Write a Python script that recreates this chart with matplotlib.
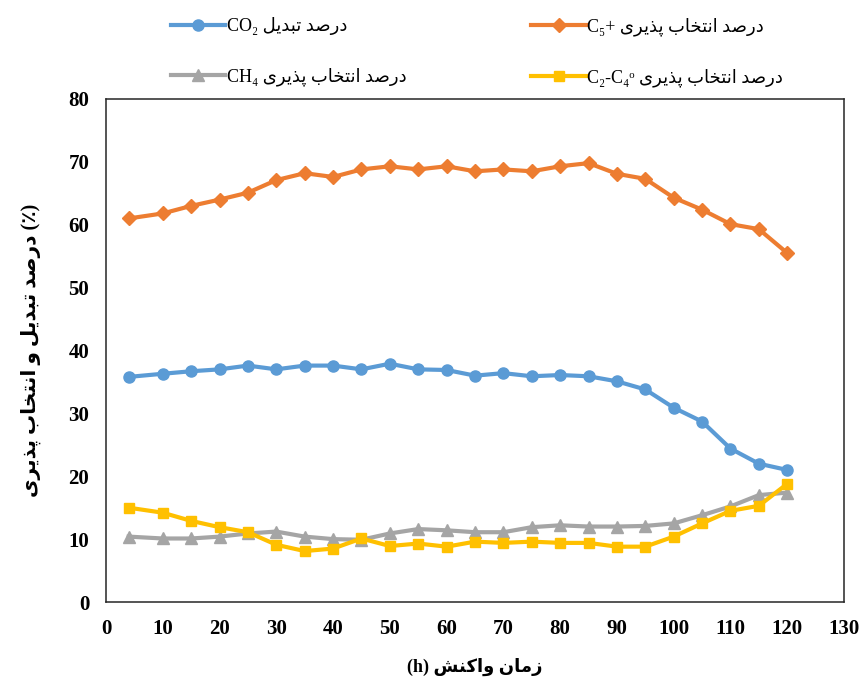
"""Conversion of CO2 and product selectivities vs reaction time (Persian labels)."""

import matplotlib
matplotlib.use("Agg")
import matplotlib.pyplot as plt

# ---------------------------------------------------------------------------- #
# data
# ---------------------------------------------------------------------------- #
time_h = [4, 10, 15, 20, 25, 30, 35, 40, 45, 50, 55, 60, 65, 70, 75, 80,
          85, 90, 95, 100, 105, 110, 115, 120]
co2_conv = [35.8, 36.3, 36.7, 37.0, 37.6, 37.0, 37.6, 37.6, 37.0, 37.9, 37.0, 36.9,
            36.0, 36.4, 35.9, 36.1, 35.9, 35.1, 33.8, 30.9, 28.7, 24.4, 22.0, 21.0]
c5_sel = [61.0, 61.8, 63.0, 64.0, 65.1, 67.1, 68.2, 67.6, 68.8, 69.3, 68.8, 69.3,
          68.5, 68.8, 68.5, 69.3, 69.8, 68.1, 67.3, 64.3, 62.4, 60.1, 59.3, 55.5]
ch4_sel = [10.4, 10.1, 10.1, 10.4, 10.9, 11.2, 10.4, 10.0, 9.9, 10.9, 11.6, 11.4,
           11.1, 11.1, 11.9, 12.2, 12.0, 12.0, 12.1, 12.5, 13.8, 15.2, 17.0, 17.4]
c2c4_sel = [15.0, 14.2, 12.9, 11.9, 11.1, 9.1, 8.1, 8.5, 10.1, 8.9, 9.3, 8.8,
            9.6, 9.4, 9.6, 9.4, 9.4, 8.8, 8.8, 10.4, 12.5, 14.5, 15.3, 18.8]

x_ticks = list(range(0, 131, 10))
y_ticks = list(range(0, 81, 10))

# ---------------------------------------------------------------------------- #
# minimal Persian shaping: matplotlib has no bidi / contextual forms, so map
# letters to presentation forms (isolated, final, initial, medial) and reverse.
# ---------------------------------------------------------------------------- #
FORMS = {
    "ا": ("\uFE8D", "\uFE8E", None, None),
    "ب": ("\uFE8F", "\uFE90", "\uFE91", "\uFE92"),
    "پ": ("\uFB56", "\uFB57", "\uFB58", "\uFB59"),
    "ت": ("\uFE95", "\uFE96", "\uFE97", "\uFE98"),
    "خ": ("\uFEA5", "\uFEA6", "\uFEA7", "\uFEA8"),
    "د": ("\uFEA9", "\uFEAA", None, None),
    "ذ": ("\uFEAB", "\uFEAC", None, None),
    "ر": ("\uFEAD", "\uFEAE", None, None),
    "ز": ("\uFEAF", "\uFEB0", None, None),
    "ش": ("\uFEB5", "\uFEB6", "\uFEB7", "\uFEB8"),
    "ص": ("\uFEB9", "\uFEBA", "\uFEBB", "\uFEBC"),
    "ک": ("\uFB8E", "\uFB8F", "\uFB90", "\uFB91"),
    "ل": ("\uFEDD", "\uFEDE", "\uFEDF", "\uFEE0"),
    "م": ("\uFEE1", "\uFEE2", "\uFEE3", "\uFEE4"),
    "ن": ("\uFEE5", "\uFEE6", "\uFEE7", "\uFEE8"),
    "و": ("\uFEED", "\uFEEE", None, None),
    "ی": ("\uFBFC", "\uFBFD", "\uFBFE", "\uFBFF"),
}


def fa(text: str) -> str:
    out = []
    for i, ch in enumerate(text):
        if ch not in FORMS:
            out.append(ch)
            continue
        prev = text[i - 1] if i > 0 else ""
        nxt = text[i + 1] if i + 1 < len(text) else ""
        join_prev = prev in FORMS and FORMS[prev][2] is not None
        join_next = FORMS[ch][2] is not None and nxt in FORMS
        iso, fin, ini, med = FORMS[ch]
        if join_prev and join_next:
            out.append(med)
        elif join_prev:
            out.append(fin)
        elif join_next:
            out.append(ini)
        else:
            out.append(iso)
    return "".join(out)[::-1]


labels = {
    "co2": "CO₂ " + fa("درصد تبدیل"),
    "c5": "C₅+ " + fa("درصد انتخاب پذیری"),
    "ch4": "CH₄ " + fa("درصد انتخاب پذیری"),
    "c2c4": "C₂-C₄ᵒ " + fa("درصد انتخاب پذیری"),
}
y_label = fa("درصد تبدیل و انتخاب پذیری") + " (٪)"
x_label = "(h) " + fa("زمان واکنش")

FAMILY = ["Liberation Serif", "DejaVu Sans"]

# ---------------------------------------------------------------------------- #
# plot
# ---------------------------------------------------------------------------- #
fig = plt.figure(figsize=(8.62, 6.82), dpi=100)
ax = fig.add_axes([106 / 862, 1 - 602 / 682, 738 / 862, 503 / 682])

series = [
    ("co2", co2_conv, "#5B9BD5", "o", 8.0),
    ("c5", c5_sel, "#ED7D31", "D", 7.0),
    ("ch4", ch4_sel, "#A5A5A5", "^", 8.0),
    ("c2c4", c2c4_sel, "#FFC000", "s", 7.5),
]
handles = {}
for key, vals, color, marker, ms in series:
    (ln,) = ax.plot(time_h, vals, color=color, lw=3.0, marker=marker, ms=ms,
                    markeredgecolor=color, label=labels[key], zorder=3)
    handles[key] = ln

ax.set_xlim(0, 130)
ax.set_ylim(0, 80)
ax.set_xticks(x_ticks)
ax.set_yticks(y_ticks)
ax.tick_params(length=0, pad=12)
for lab in ax.get_xticklabels() + ax.get_yticklabels():
    lab.set_fontfamily("Liberation Serif")
    lab.set_fontweight("bold")
    lab.set_fontsize(15)
for sp in ax.spines.values():
    sp.set_color("#262626")
    sp.set_linewidth(1.1)

ax.set_xlabel(x_label, family=FAMILY, fontweight="bold", fontsize=13, labelpad=14)
ax.set_ylabel(y_label, family=FAMILY, fontweight="bold", fontsize=14.5, labelpad=20)

# legend: two columns above the plot, row-wise as in the original
order = ["co2", "ch4", "c5", "c2c4"]
leg = fig.legend([handles[k] for k in order], [labels[k] for k in order],
                 ncol=2, loc="upper left", bbox_to_anchor=(155 / 862, 1 - 1 / 682),
                 frameon=False, handlelength=3.0, handletextpad=0.1,
                 labelspacing=1.8, columnspacing=6.9,
                 prop={"family": FAMILY, "size": 13})

fig.savefig("out.png", dpi=100)
